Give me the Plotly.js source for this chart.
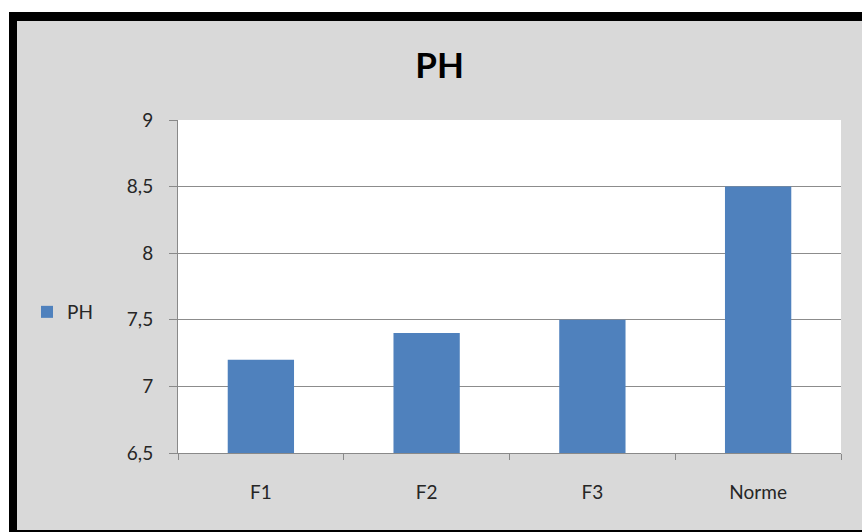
<!DOCTYPE html>
<html>
<head>
<meta charset="utf-8">
<script src="https://cdn.plot.ly/plotly-3.0.1.min.js"></script>
<style>html,body{margin:0;padding:0;background:#fff;}#chart{width:862px;height:532px;}</style>
</head>
<body>
<div id="chart"></div>
<script>
const categories = ["F1", "F2", "F3", "Norme"];
const phValues = [7.2, 7.4, 7.5, 8.5];
const seriesName = "PH";
const chartTitle = "PH";
const yTicks = [6.5, 7, 7.5, 8, 8.5, 9];

const L = 178, R = 841, T = 120, B = 453, W = 862, H = 532;
const px = x => (x - L) / (R - L);
const py = y => (B - y) / (B - T);

const shapes = [
  {type:'rect', xref:'paper', yref:'paper', x0:px(0), x1:px(W), y0:py(12), y1:py(0), fillcolor:'#ffffff', line:{width:0}, layer:'above'},
  {type:'rect', xref:'paper', yref:'paper', x0:px(0), x1:px(9), y0:py(H), y1:py(0), fillcolor:'#ffffff', line:{width:0}, layer:'above'},
  {type:'rect', xref:'paper', yref:'paper', x0:px(9), x1:px(W), y0:py(21), y1:py(12), fillcolor:'#000000', line:{width:0}, layer:'above'},
  {type:'rect', xref:'paper', yref:'paper', x0:px(9), x1:px(17), y0:py(H), y1:py(12), fillcolor:'#000000', line:{width:0}, layer:'above'},
  {type:'rect', xref:'paper', yref:'paper', x0:px(9), x1:px(W), y0:py(H), y1:py(530), fillcolor:'#000000', line:{width:0}, layer:'above'}
];

const data = [{
  type: 'bar',
  x: categories,
  y: phValues,
  name: seriesName,
  marker: {color: '#4f81bd'},
  width: 0.4,
  showlegend: true
}];

const layout = {
  width: W, height: H,
  margin: {l: L, r: W - R, t: T, b: H - B, pad: 0},
  paper_bgcolor: '#d9d9d9',
  plot_bgcolor: '#ffffff',
  separators: ', ',
  font: {family: 'Lato, "Open Sans", sans-serif', size: 19, color: '#262626'},
  title: {
    text: '<b>' + chartTitle + '</b>',
    font: {family: 'Lato, "Open Sans", sans-serif', size: 35, color: '#000000'},
    x: 0.51, xanchor: 'center', xref: 'container',
    y: 1 - 66 / H, yanchor: 'middle', yref: 'container'
  },
  showlegend: true,
  legend: {
    x: px(27), xanchor: 'left', y: py(312), yanchor: 'middle',
    bgcolor: 'rgba(0,0,0,0)', font: {size: 19, color: '#262626'},
    itemwidth: 30
  },
  xaxis: {
    type: 'category',
    range: [-0.5, 3.5],
    showline: true, linecolor: '#898989', linewidth: 1,
    ticks: 'outside', tickson: 'boundaries', ticklen: 6, tickcolor: '#898989',
    showgrid: false,
    ticklabelstandoff: 22,
    fixedrange: true
  },
  yaxis: {
    range: [6.5, 9],
    tickvals: yTicks,
    showline: true, linecolor: '#898989', linewidth: 1,
    ticks: 'outside', ticklen: 8, tickcolor: '#898989',
    showgrid: true, gridcolor: '#8c8c8c', gridwidth: 1,
    zeroline: false,
    ticklabelstandoff: 12,
    fixedrange: true
  },
  shapes: shapes,
  bargap: 0.6
};

Plotly.newPlot('chart', data, layout, {displayModeBar: false, staticPlot: true});
</script>
</body>
</html>
